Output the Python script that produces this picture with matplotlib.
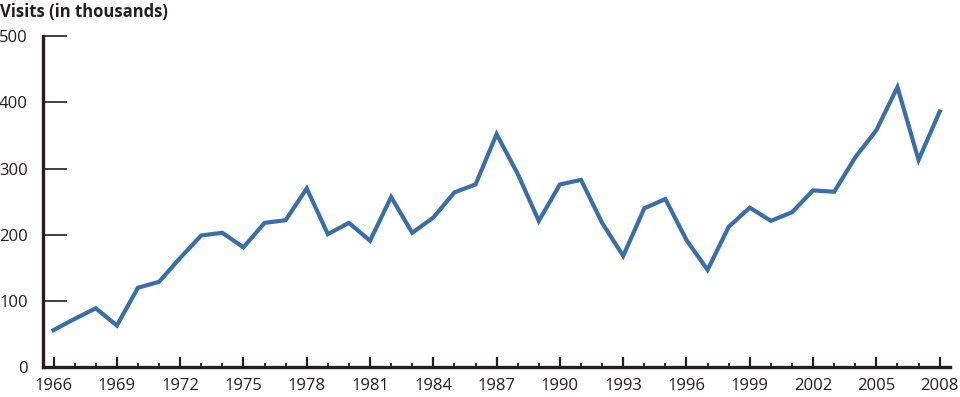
"""Line chart: visits (in thousands) per year, 1966-2008."""

import matplotlib.pyplot as plt
from matplotlib.ticker import MultipleLocator

years = list(range(1966, 2009))
visits = [
    56, 73, 89, 63, 120, 129, 165, 199, 203, 181,
    218, 222, 270, 201, 218, 191, 257, 203, 226, 264,
    276, 352, 292, 221, 276, 283, 218, 168, 240, 254,
    192, 147, 212, 241, 221, 234, 267, 265, 317, 358,
    423, 313, 386,
]
year_ticks = list(range(1966, 2009, 3))
visit_ticks = [0, 100, 200, 300, 400, 500]

plt.rcParams["font.family"] = ["Open Sans", "DejaVu Sans"]

fig = plt.figure(figsize=(9.6, 3.97), dpi=100)
ax = fig.add_axes([0.0448, 0.075, 0.945, 0.834])

ax.plot(years, visits, color="#3a6ea8", linewidth=3.0, solid_joinstyle="miter")

ax.set_xlim(1965.5, 2008.5)
ax.set_ylim(0, 500)
ax.set_xticks(year_ticks)
ax.xaxis.set_minor_locator(MultipleLocator(1))
ax.set_yticks(visit_ticks)

for side in ("top", "right"):
    ax.spines[side].set_visible(False)
for side in ("left", "bottom"):
    ax.spines[side].set_linewidth(2.4)
    ax.spines[side].set_color("#231f20")

ax.tick_params(axis="y", direction="in", length=17, width=1.2, color="#231f20",
               pad=11, labelsize=12, labelcolor="#231f20")
ax.tick_params(axis="x", which="major", direction="in", length=7.5, width=1.6,
               color="#231f20", pad=8, labelsize=12, labelcolor="#231f20")
ax.tick_params(axis="x", which="minor", direction="in", length=3, width=1.3,
               color="#231f20")

fig.text(0.0, 0.97, "Visits (in thousands)", fontsize=12, fontweight="bold",
         color="#231f20", ha="left", va="center")

fig.savefig("out.png", dpi=100)
